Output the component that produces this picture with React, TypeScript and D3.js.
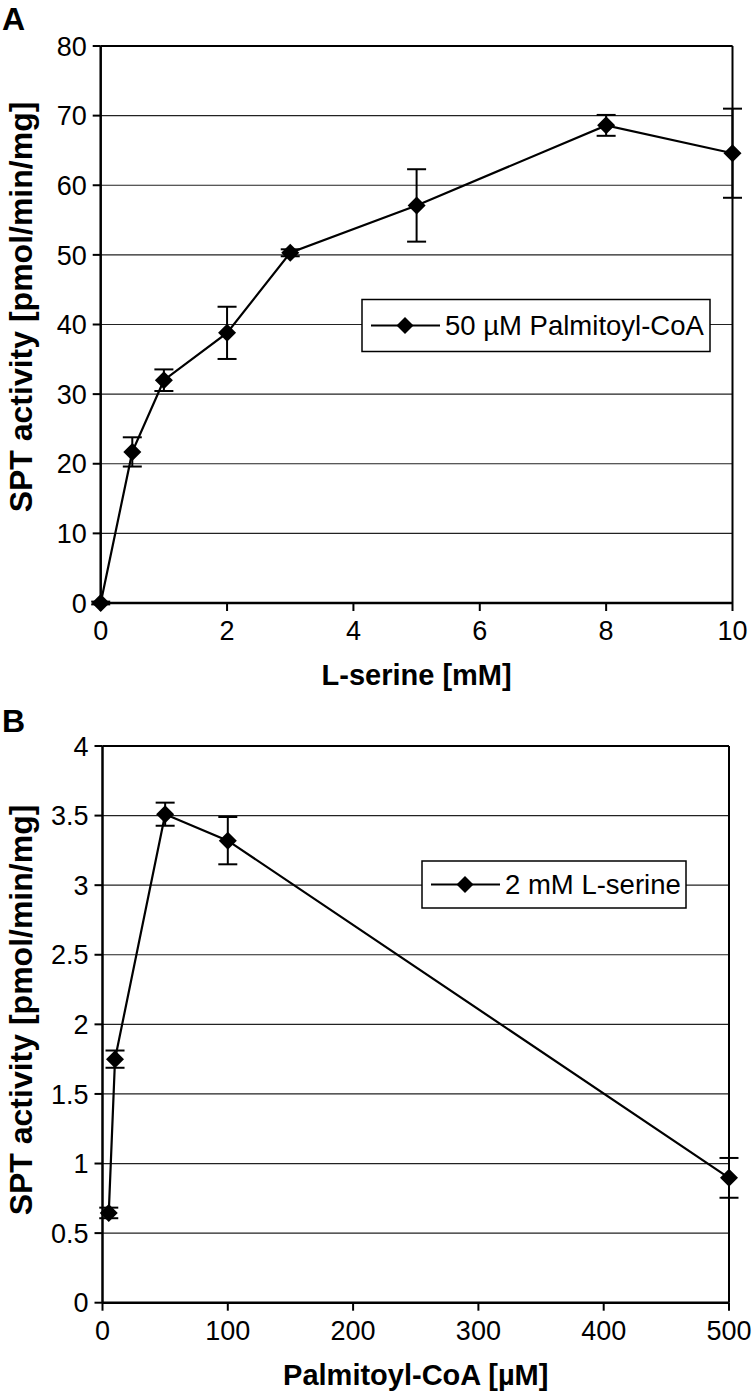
import React from "react";
import * as d3 from "d3";

// Panel A: L-serine titration
const serineX = [0, 0.5, 1, 2, 3, 5, 8, 10];
const serineY = [0, 21.7, 32.0, 38.8, 50.3, 57.1, 68.6, 64.6];
const serineErr = [0.2, 2.1, 1.55, 3.75, 0.5, 5.2, 1.5, 6.4];
const serineXTicks = [0, 2, 4, 6, 8, 10];
const serineYTicks = [0, 10, 20, 30, 40, 50, 60, 70, 80];

// Panel B: Palmitoyl-CoA titration
const pcoaX = [5, 10, 50, 100, 500];
const pcoaY = [0.645, 1.75, 3.51, 3.32, 0.897];
const pcoaErr = [0.038, 0.062, 0.083, 0.17, 0.143];
const pcoaXTicks = [0, 100, 200, 300, 400, 500];
const pcoaYTicks = [0, 0.5, 1, 1.5, 2, 2.5, 3, 3.5, 4];

const FONT = "'Liberation Sans', Arial, Helvetica, sans-serif";

type PanelProps = {
  letter: string;
  letterY: number;
  yTitleCenter: number;
  xs: number[];
  ys: number[];
  errs: number[];
  xTicks: number[];
  yTicks: number[];
  xDomain: [number, number];
  yDomain: [number, number];
  left: number;
  right: number;
  top: number;
  bottom: number;
  xTitle: string;
  legend: string;
  legendBox: { x: number; y: number; w: number; h: number };
};

function Diamond({ cx, cy, r }: { cx: number; cy: number; r: number }) {
  return (
    <path
      d={`M${cx},${cy - r}L${cx + r},${cy}L${cx},${cy + r}L${cx - r},${cy}Z`}
      fill="#000"
    />
  );
}

function Panel(p: PanelProps) {
  const x = d3.scaleLinear().domain(p.xDomain).range([p.left, p.right]);
  const y = d3.scaleLinear().domain(p.yDomain).range([p.bottom, p.top]);
  const line = d3
    .line<number>()
    .x((_, i) => x(p.xs[i]))
    .y((d) => y(d));
  const cap = 9.5;
  const lb = p.legendBox;
  const ly = lb.y + lb.h / 2;
  return (
    <g>
      <text x={2} y={p.letterY} fontFamily={FONT} fontWeight="bold" fontSize={32}>
        {p.letter}
      </text>
      {/* gridlines */}
      {p.yTicks.map((t) => (
        <line key={"g" + t} x1={p.left} x2={p.right} y1={y(t)} y2={y(t)} stroke="#222" strokeWidth={1.2} />
      ))}
      {/* frame top/right */}
      <line x1={p.left} x2={p.right} y1={p.top} y2={p.top} stroke="#000" strokeWidth={2} />
      <line x1={p.right} x2={p.right} y1={p.top} y2={p.bottom} stroke="#000" strokeWidth={2} />
      {/* axes */}
      <line x1={p.left} x2={p.left} y1={p.top} y2={p.bottom} stroke="#000" strokeWidth={2.5} />
      <line x1={p.left} x2={p.right} y1={p.bottom} y2={p.bottom} stroke="#000" strokeWidth={2.5} />
      {p.yTicks.map((t) => (
        <g key={"y" + t}>
          <line x1={p.left - 8} x2={p.left} y1={y(t)} y2={y(t)} stroke="#000" strokeWidth={2} />
          <text
            x={p.left - 14}
            y={y(t)}
            dy="0.36em"
            textAnchor="end"
            fontFamily={FONT}
            fontSize={27}
          >
            {String(t)}
          </text>
        </g>
      ))}
      {p.xTicks.map((t) => (
        <g key={"x" + t}>
          <line x1={x(t)} x2={x(t)} y1={p.bottom} y2={p.bottom + 8} stroke="#000" strokeWidth={2} />
          <text x={x(t)} y={p.bottom + 37} textAnchor="middle" fontFamily={FONT} fontSize={27}>
            {String(t)}
          </text>
        </g>
      ))}
      {/* titles */}
      <text
        x={(p.left + p.right) / 2}
        y={p.bottom + 82}
        textAnchor="middle"
        fontFamily={FONT}
        fontWeight="bold"
        fontSize={29}
      >
        {p.xTitle}
      </text>
      <text
        transform={`translate(32,${p.yTitleCenter}) rotate(-90)`}
        textAnchor="middle"
        fontFamily={FONT}
        fontWeight="bold"
        fontSize={32}
      >
        SPT activity [pmol/min/mg]
      </text>
      {/* legend */}
      <rect x={lb.x} y={lb.y} width={lb.w} height={lb.h} fill="#fff" stroke="#000" strokeWidth={1.5} />
      <line x1={lb.x + 9} x2={lb.x + 78} y1={ly} y2={ly} stroke="#000" strokeWidth={2} />
      <Diamond cx={lb.x + 43} cy={ly} r={8.5} />
      <text x={lb.x + 83} y={ly} dy="0.36em" fontFamily={FONT} fontSize={27.5}>
        {p.legend}
      </text>
      {/* error bars */}
      {p.xs.map((xv, i) => {
        const cx = x(xv);
        const y1 = y(p.ys[i] + p.errs[i]);
        const y2 = y(p.ys[i] - p.errs[i]);
        return (
          <g key={"e" + i} stroke="#000" strokeWidth={2}>
            <line x1={cx} x2={cx} y1={y1} y2={y2} />
            <line x1={cx - cap} x2={cx + cap} y1={y1} y2={y1} />
            <line x1={cx - cap} x2={cx + cap} y1={y2} y2={y2} />
          </g>
        );
      })}
      <path d={line(p.ys) || ""} fill="none" stroke="#000" strokeWidth={2.2} />
      {p.xs.map((xv, i) => (
        <Diamond key={"m" + i} cx={x(xv)} cy={y(p.ys[i])} r={9} />
      ))}
    </g>
  );
}

export default function App() {
  return (
    <svg
      width={755}
      height={1397}
      style={{ position: "absolute", left: 0, top: 0, background: "#fff" }}
    >
      <rect x={0} y={0} width={755} height={1397} fill="#fff" />
      <Panel
        letter="A"
        letterY={30}
        yTitleCenter={307}
        xs={serineX}
        ys={serineY}
        errs={serineErr}
        xTicks={serineXTicks}
        yTicks={serineYTicks}
        xDomain={[0, 10]}
        yDomain={[0, 80]}
        left={100.7}
        right={732.5}
        top={46}
        bottom={603}
        xTitle="L-serine [mM]"
        legend="50 µM Palmitoyl-CoA"
        legendBox={{ x: 362, y: 299.5, w: 348, h: 52 }}
      />
      <Panel
        letter="B"
        letterY={732}
        yTitleCenter={1010}
        xs={pcoaX}
        ys={pcoaY}
        errs={pcoaErr}
        xTicks={pcoaXTicks}
        yTicks={pcoaYTicks}
        xDomain={[0, 500]}
        yDomain={[0, 4]}
        left={102.5}
        right={729}
        top={746}
        bottom={1302.7}
        xTitle="Palmitoyl-CoA [µM]"
        legend="2 mM L-serine"
        legendBox={{ x: 422, y: 861, w: 264, h: 47 }}
      />
    </svg>
  );
}
